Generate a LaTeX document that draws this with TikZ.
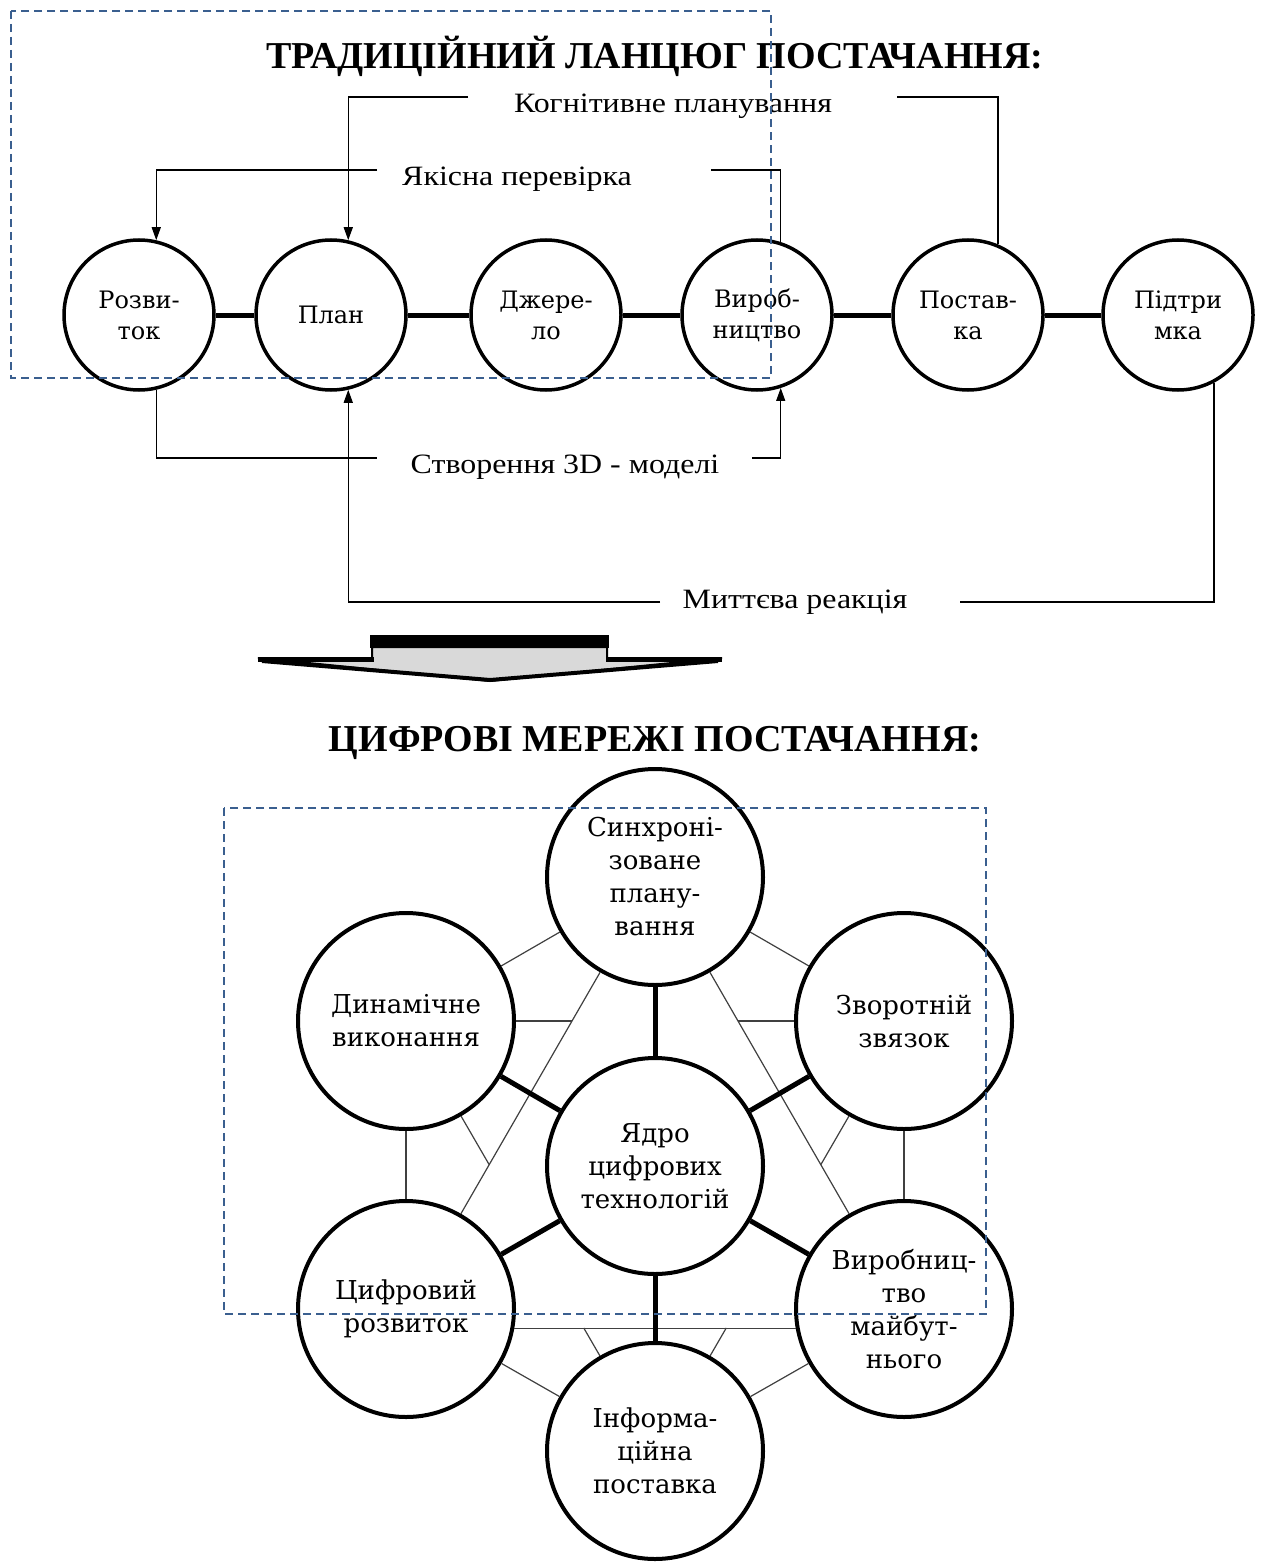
\documentclass[tikz,border=0pt]{standalone}
\usepackage{fontspec}
\setmainfont{Liberation Serif}
\newfontfamily\circfont{DejaVu Serif}
\newfontfamily\lblfont{Liberation Serif}[FakeStretch=1.14]
\usetikzlibrary{arrows.meta,calc,intersections}
\definecolor{dashblue}{HTML}{3A5F8F}
\begin{document}
\begin{tikzpicture}[x=1pt,y=-1pt,
  tc/.style={circle,draw,line width=3.5pt,minimum size=150pt,inner sep=0pt,align=center,fill=white,
             font=\circfont\fontsize{24}{31}\selectfont},
  bc/.style={circle,draw,line width=4pt,minimum size=216pt,inner sep=0pt,align=center,fill=white,
             font=\circfont\fontsize{26}{33}\selectfont},
  ttl/.style={font=\fontsize{38}{40}\selectfont\bfseries},
  lbl/.style={font=\lblfont\fontsize{28}{30}\selectfont},
  link/.style={line width=5pt},
  conn/.style={line width=1.4pt},
  arr/.style={conn,-{Triangle[length=13pt,width=9pt]}},
  thinl/.style={line width=1.2pt,black!75},
  spoke/.style={line width=5pt},
  dbox/.style={draw=dashblue,line width=1.8pt,dash pattern=on 8pt off 5pt}]
\useasboundingbox (0,0) rectangle (1264,1562);
\fill[white] (0,0) rectangle (1264,1562);

% ---------- top: traditional chain ----------
\node[ttl] (t1) at (655,56) {ТРАДИЦІЙНИЙ ЛАНЦЮГ ПОСТАЧАННЯ:};

\node[tc] (rozv) at (139,315) {Розви-\\ток};
\node[tc] (plan) at (331,315) {План};
\node[tc] (dzh)  at (546,315) {Джере-\\ло};
\node[tc] (vyr)  at (757,315) {Вироб-\\ництво};
\node[tc] (post) at (968,315) {Постав-\\ка};
\node[tc] (pidt) at (1178,315) {Підтри\\мка};

\draw[link] (rozv) -- (plan);
\draw[link] (plan) -- (dzh);
\draw[link] (dzh) -- (vyr);
\draw[link] (vyr) -- (post);
\draw[link] (post) -- (pidt);

% labels
\node[lbl] (lcog) at (673,106) {Когнітивне планування};
\node[lbl] (ljak) at (517,179) {Якісна перевірка};
\node[lbl] (l3d)  at (565,467) {Створення 3D - моделі};
\node[lbl] (lmyt) at (795,602) {Миттєва реакція};

\coordinate (cogR) at (897,97);
\coordinate (cogL) at (468,97);
\coordinate (jakR) at (711,170);
\coordinate (jakL) at (377,170);
\coordinate (m3L)  at (377,458);
\coordinate (m3R)  at (752,458);
\coordinate (mytR) at (960,602);
\coordinate (mytL) at (660,602);

\draw[conn] (post.67) |- (cogR);
\draw[arr] (cogL) -| (plan.77);
\draw[conn] (vyr.72) |- (jakR);
\draw[arr] (jakL) -| (rozv.77);
\draw[conn] (rozv.-77) |- (m3L);
\draw[arr] (m3R) -| (vyr.-72);
\draw[conn] (pidt.-62) |- (mytR);
\draw[arr] (mytL) -| (plan.-77);

% ---------- big arrow ----------
\filldraw[fill=black!15,draw=black,line width=2pt]
  (372,647) -- (607,647) -- (607,658) -- (722,658) -- (490,681) -- (258,658) -- (372,658) -- cycle;
\draw[line width=5pt] (258,659) -- (374,659);
\draw[line width=5pt] (606,659) -- (722,659);
\draw[line width=4pt,line join=miter] (262,661) -- (490,680) -- (718,661);
\fill (370,635) rectangle (609,648);

% ---------- bottom: digital network ----------
\node[ttl] (t2) at (655,743) {ЦИФРОВІ МЕРЕЖІ ПОСТАЧАННЯ:};

\node[bc] (syn) at (655,877)  {Синхроні-\\зоване\\плану-\\вання};
\node[bc] (din) at (406,1021) {Динамічне\\виконання};
\node[bc] (zv)  at (904,1021) {Зворотній\\звязок};
\node[bc] (cor) at (655,1166) {Ядро\\цифрових\\технологій};
\node[bc] (cyf) at (406,1309) {Цифровий\\розвиток};
\node[bc] (vm)  at (904,1309) {Виробниц-\\тво\\майбут-\\нього};
\node[bc] (inf) at (655,1451) {Інформа-\\ційна\\поставка};

% helper paths
\path[name path=dTL] (syn.center) -- (cyf.center);
\path[name path=dTR] (syn.center) -- (vm.center);
\path[name path=hU]  (din.center) -- (zv.center);
\path[name path=hB]  ([yshift=-19pt]cyf.center) -- ([yshift=-19pt]vm.center);
\path[name path=dLB] (din.center) -- (inf.center);
\path[name path=dRB] (zv.center) -- (inf.center);

\path[name intersections={of=hU and dTL,by=pU1}];
\path[name intersections={of=hU and dTR,by=pU2}];
\path[name intersections={of=dLB and dTL,by=pL1}];
\path[name intersections={of=dLB and hB,by=pL2}];
\path[name intersections={of=dRB and dTR,by=pR1}];
\path[name intersections={of=dRB and hB,by=pR2}];

% thin links
\draw[thinl] (syn) -- (din);
\draw[thinl] (syn) -- (zv);
\draw[thinl] (din) -- (cyf);
\draw[thinl] (zv) -- (vm);
\draw[thinl] (cyf) -- (inf);
\draw[thinl] (vm) -- (inf);
\draw[thinl] (syn) -- (cyf);
\draw[thinl] (syn) -- (vm);
\draw[thinl] (cyf.-10) -- (vm.-170);
\draw[thinl] (din) -- (pU1);
\draw[thinl] (zv) -- (pU2);
\draw[thinl] (din) -- (pL1);
\draw[thinl] (inf) -- (pL2);
\draw[thinl] (zv) -- (pR1);
\draw[thinl] (inf) -- (pR2);

% spokes
\draw[spoke] (cor) -- (syn);
\draw[spoke] (cor) -- (din);
\draw[spoke] (cor) -- (zv);
\draw[spoke] (cor) -- (cyf);
\draw[spoke] (cor) -- (vm);
\draw[spoke] (cor) -- (inf);

% ---------- dashed frames ----------
\draw[dbox] (11,11) rectangle (771,378);
\draw[dbox] (224,808) rectangle (986,1314);
\end{tikzpicture}
\end{document}
